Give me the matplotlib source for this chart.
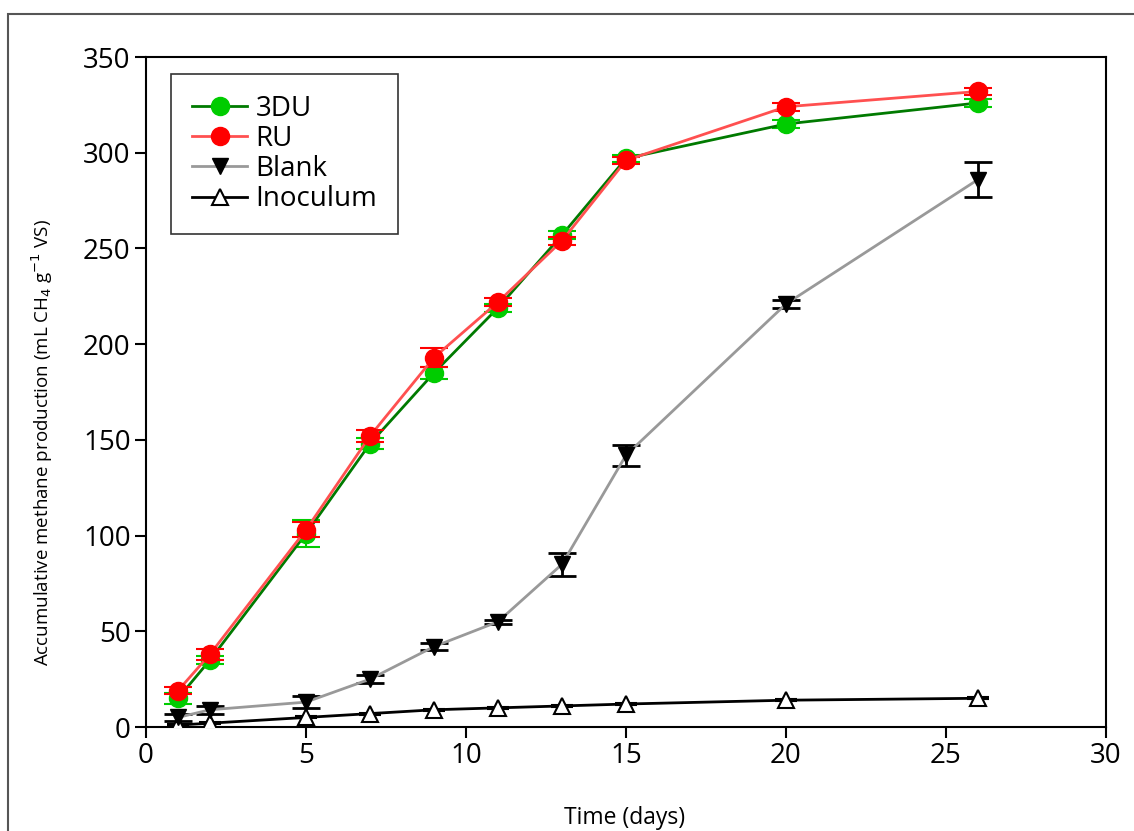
import matplotlib
matplotlib.use("Agg")
from matplotlib import pyplot as plt
from matplotlib.patches import Rectangle
from matplotlib.lines import Line2D

days = [1, 2, 5, 7, 9, 11, 13, 15, 20, 26]

du3 = [15, 35, 101, 148, 185, 219, 257, 297, 315, 326]
du3_err = [3, 2, 7, 3, 3, 2, 2, 2, 2, 2]
ru = [19, 38, 103, 152, 193, 222, 254, 296, 324, 332]
ru_err = [2, 3, 4, 3, 5, 2, 2, 2, 2, 2]
blank = [5, 9, 13, 25, 42, 55, 85, 142, 221, 286]
blank_err = [2, 2, 3, 2, 2, 1, 6, 5.5, 2, 9]
inoculum = [1, 2, 5, 7, 9, 10, 11, 12, 14, 15]
inoculum_err = [0.5, 0.5, 0.5, 0.5, 0.5, 0.5, 0.5, 0.5, 0.5, 0.5]

plt.rcParams['font.family'] = ['Open Sans', 'DejaVu Sans']

fig = plt.figure(figsize=(11.34, 8.31), dpi=100)
# outer frame
fig.patches.append(Rectangle((8 / 1134, -0.1), 1.2, 1.1 - 14 / 831,
                             transform=fig.transFigure, fill=False,
                             edgecolor='#555555', linewidth=1.5))
ax = fig.add_axes([146 / 1134, 1 - 727 / 831, 960 / 1134, 670 / 831])

styles = {
    'Inoculum': dict(color='black', marker='^', ms=12, mfc='white',
                     mec='black', mew=1.5),
    'Blank': dict(color='#999999', marker='v', ms=12, mfc='black',
                  mec='black'),
    '3DU': dict(color='#007a00', marker='o', ms=13, mfc='#00cc00',
                mec='#00cc00'),
    'RU': dict(color='#ff5050', marker='o', ms=13, mfc='#ff0000',
               mec='#ff0000'),
}

ax.errorbar(days, inoculum, yerr=inoculum_err, lw=2, ecolor='black',
            capsize=8, elinewidth=1.5, capthick=1.5, zorder=3,
            **styles['Inoculum'])
ax.errorbar(days, blank, yerr=blank_err, lw=2, ecolor='black',
            capsize=10, elinewidth=2, capthick=2, zorder=4,
            **styles['Blank'])
ax.errorbar(days, du3, yerr=du3_err, lw=2, ecolor='#00cc00',
            capsize=10, elinewidth=1.5, capthick=1.5, zorder=5,
            **styles['3DU'])
ax.errorbar(days, ru, yerr=ru_err, lw=2, ecolor='#ff0000',
            capsize=10, elinewidth=1.5, capthick=1.5, zorder=6,
            **styles['RU'])

ax.set_xlim(0, 30)
ax.set_ylim(0, 350)
ax.set_xticks([0, 5, 10, 15, 20, 25, 30])
ax.set_yticks([0, 50, 100, 150, 200, 250, 300, 350])
ax.tick_params(labelsize=20, length=8, width=1.5, direction='out', pad=3)
for s in ax.spines.values():
    s.set_linewidth(1.5)

ax.set_xlabel('Time (days)', fontsize=16.5)
ax.xaxis.set_label_coords(0.498, -0.118)
ax.set_ylabel(r'Accumulative methane production (mL CH$_4$ g$^{-1}$ VS)',
              fontsize=13.5)
ax.yaxis.set_label_coords(-0.095, 0.425)

names = ['3DU', 'RU', 'Blank', 'Inoculum']
handles = [Line2D([], [], lw=2, **styles[n]) for n in names]
leg = ax.legend(handles, names, loc='upper left',
                bbox_to_anchor=(0.026, 0.975), borderaxespad=0,
                fontsize=20, frameon=True, fancybox=False,
                edgecolor='black', handlelength=2.0, handletextpad=0.3,
                borderpad=0.75, labelspacing=0.08)
leg.get_frame().set_linewidth(1.2)

fig.savefig('out.png', dpi=100)
